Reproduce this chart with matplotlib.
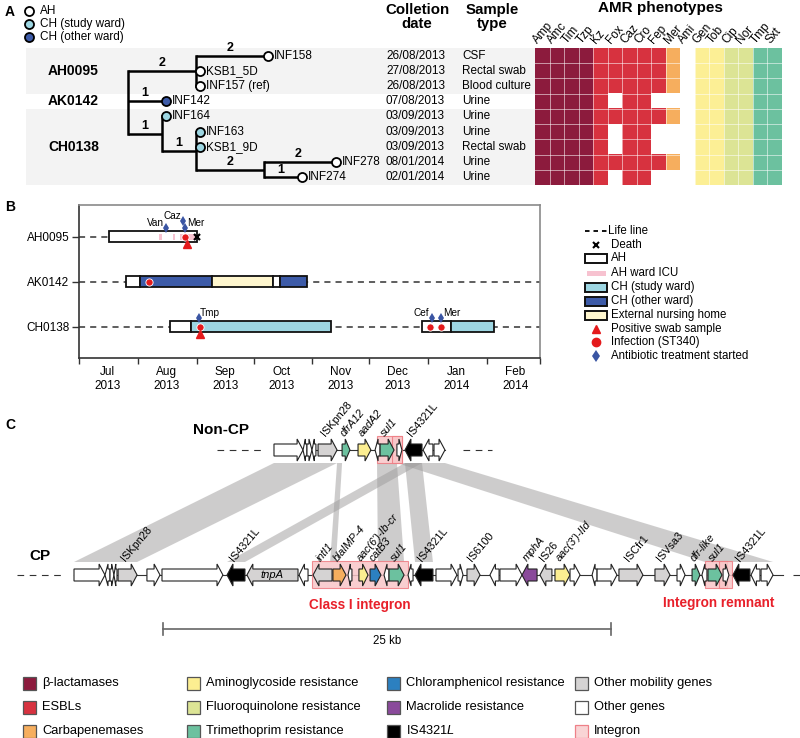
import datetime as dt
import numpy as np
import matplotlib
matplotlib.use('Agg')
import matplotlib.pyplot as plt
import matplotlib.dates as mdates
from matplotlib.patches import Rectangle, Polygon
from matplotlib.lines import Line2D
from matplotlib.transforms import blended_transform_factory

plt.rcParams['font.family'] = ['Liberation Sans', 'DejaVu Sans']
plt.rcParams['mathtext.fontset'] = 'custom'
plt.rcParams['mathtext.rm'] = 'Liberation Sans'
plt.rcParams['mathtext.it'] = 'Liberation Sans:italic'

# ======================= DATA =======================
# ---- Panel A ----
isolates = ['INF158', 'KSB1_5D', 'INF157 (ref)', 'INF142', 'INF164',
            'INF163', 'KSB1_9D', 'INF278', 'INF274']
isolate_site = ['AH', 'AH', 'AH', 'CH (other ward)', 'CH (study ward)',
                'CH (study ward)', 'CH (study ward)', 'AH', 'AH']
collection_dates = ['26/08/2013', '27/08/2013', '26/08/2013', '07/08/2013',
                    '03/09/2013', '03/09/2013', '03/09/2013', '08/01/2014',
                    '02/01/2014']
sample_types = ['CSF', 'Rectal swab', 'Blood culture', 'Urine', 'Urine',
                'Urine', 'Rectal swab', 'Urine', 'Urine']
patient_groups = ['AH0095', 'AK0142', 'CH0138']
group_rows = [[0, 1, 2], [3], [4, 5, 6, 7, 8]]

# tree: node -> (parent, SNP distance to parent)
tree = {
    'root': (None, 0),
    'nAH': ('root', 2), 'INF158': ('nAH', 2), 'KSB1_5D': ('nAH', 0),
    'INF157 (ref)': ('nAH', 0),
    'INF142': ('root', 1),
    'nCH': ('root', 1), 'INF164': ('nCH', 0), 'nCH2': ('nCH', 1),
    'INF163': ('nCH2', 0), 'KSB1_9D': ('nCH2', 0), 'nCH3': ('nCH2', 2),
    'INF278': ('nCH3', 2), 'INF274': ('nCH3', 1),
}

antibiotics = ['Amp', 'Amc', 'Tim', 'Tzp', 'Kz', 'Fox', 'Caz', 'Cro', 'Fep',
               'Mer', 'Ami', 'Gen', 'Tob', 'Cip', 'Nor', 'Tmp', 'Sxt']
antibiotic_class = (['β-lactamases'] * 4 + ['ESBLs'] * 5 + ['Carbapenemases'] +
                    ['Aminoglycoside resistance'] * 3 +
                    ['Fluoroquinolone resistance'] * 2 +
                    ['Trimethoprim resistance'] * 2)
resistance = [
    [1, 1, 1, 1, 1, 1, 1, 1, 1, 1, 0, 1, 1, 1, 1, 1, 1],
    [1, 1, 1, 1, 1, 1, 1, 1, 1, 1, 0, 1, 1, 1, 1, 1, 1],
    [1, 1, 1, 1, 1, 1, 1, 1, 1, 1, 0, 1, 1, 1, 1, 1, 1],
    [1, 1, 1, 1, 1, 0, 1, 1, 0, 0, 0, 1, 1, 1, 1, 1, 1],
    [1, 1, 1, 1, 1, 1, 1, 1, 1, 1, 0, 1, 1, 1, 1, 1, 1],
    [1, 1, 1, 1, 1, 0, 1, 1, 0, 0, 0, 1, 1, 1, 1, 1, 1],
    [1, 1, 1, 1, 1, 0, 1, 1, 0, 0, 0, 1, 1, 1, 1, 1, 1],
    [1, 1, 1, 1, 1, 1, 1, 1, 1, 1, 0, 1, 1, 1, 1, 1, 1],
    [1, 1, 1, 1, 1, 0, 1, 1, 0, 0, 0, 1, 1, 1, 1, 1, 1],
]

# ---- Panel B ----
patients = ['AH0095', 'AK0142', 'CH0138']
life_end = ['2013-09-01', None, None]
stay_patient = [0, 1, 1, 1, 1, 1, 2, 2, 2, 2]
stay_start = ['2013-07-17', '2013-07-26', '2013-08-02', '2013-09-09', '2013-10-11',
              '2013-10-15', '2013-08-18', '2013-08-29', '2013-12-29', '2014-01-13']
stay_end = ['2013-09-01', '2013-08-02', '2013-09-09', '2013-10-11', '2013-10-15',
            '2013-10-29', '2013-08-29', '2013-11-11', '2014-01-13', '2014-02-05']
stay_type = ['AH', 'AH', 'CH (other ward)', 'External nursing home', 'AH',
             'CH (other ward)', 'AH', 'CH (study ward)', 'AH', 'CH (study ward)']
icu_patient = [0, 0, 0]
icu_start = ['2013-08-12', '2013-08-19', '2013-08-23']
icu_end = ['2013-08-14', '2013-08-21', '2013-09-01']
death_patient = [0]
death_date = ['2013-09-01']
infection_patient = [0, 1, 2, 2, 2]
infection_date = ['2013-08-26', '2013-08-07', '2013-09-03', '2014-01-02', '2014-01-08']
swab_patient = [0, 2]
swab_date = ['2013-08-27', '2013-09-03']
abx_patient = [0, 0, 0, 2, 2, 2]
abx_date = ['2013-08-16', '2013-08-25', '2013-08-26', '2013-09-02', '2014-01-03', '2014-01-08']
abx_name = ['Van', 'Caz', 'Mer', 'Tmp', 'Cef', 'Mer']
abx_label_side = ['left', 'left', 'right', 'right', 'left', 'right']   # style

# ---- Panel C (kb) ----
cp_start = [0.00, 1.73, 2.01, 2.23, 2.46, 4.07, 4.91, 8.54, 9.65, 12.56, 13.34, 14.45,
            15.29, 15.90, 16.52, 17.30, 17.58, 18.64, 19.03, 20.20, 21.43, 21.93,
            23.21, 23.77, 25.00, 26.00, 26.84, 27.68, 28.91, 29.19, 30.41, 32.42,
            33.65, 34.49, 35.04, 35.38, 36.22, 36.77, 37.78, 38.34]
cp_end = [1.73, 2.01, 2.23, 2.40, 3.52, 4.80, 8.31, 9.54, 12.50, 13.06, 14.40, 15.18,
          15.51, 16.41, 17.13, 17.58, 18.42, 18.92, 20.03, 21.37, 21.71, 22.66,
          23.72, 25.00, 25.84, 26.67, 27.68, 28.24, 29.19, 30.30, 31.75, 33.26,
          34.10, 34.93, 35.32, 36.16, 36.55, 37.72, 38.28, 39.01]
cp_strand = [1, -1, 1, -1, 1, 1, 1, -1, -1, -1, -1, 1, -1, 1, 1, -1, 1, -1, -1, 1,
             1, 1, -1, 1, -1, -1, 1, 1, -1, 1, 1, 1, 1, 1, -1, 1, 1, -1, -1, 1]
cp_category = ['other', 'other', 'other', 'other', 'mobility', 'other', 'other',
               'IS4321L', 'mobility', 'other', 'mobility', 'carbapenemase', 'other',
               'aminoglycoside', 'chloramphenicol', 'other', 'trimethoprim', 'other',
               'IS4321L', 'other', 'other', 'mobility', 'other', 'other', 'macrolide',
               'mobility', 'aminoglycoside', 'other', 'other', 'other', 'mobility',
               'mobility', 'other', 'trimethoprim', 'other', 'trimethoprim', 'other',
               'IS4321L', 'other', 'other']
cp_label = ['', '', '', '', 'ISKpn28', '', '', 'IS4321L', 'tnpA', '', 'intI1',
            'blaIMP-4', '', "aac(6')-Ib-cr", 'catB3', '', 'sul1', '', 'IS4321L', '',
            '', 'IS6100', '', '', 'mphA', 'IS26', "aac(3')-IId", '', '', '', 'ISCfr1',
            'ISVsa3', '', 'dfr-like', '', 'sul1', '', 'IS4321L', '', '']
ncp_start = [11.16, 12.78, 13.00, 13.28, 13.62, 14.96, 15.85, 16.80, 17.08, 18.02,
             18.47, 19.48, 20.09]
ncp_end = [12.78, 13.00, 13.28, 13.50, 14.68, 15.40, 16.57, 17.08, 17.86, 18.30,
           19.42, 20.03, 20.70]
ncp_strand = [1, -1, 1, -1, 1, 1, 1, -1, 1, 1, -1, -1, 1]
ncp_category = ['other', 'other', 'other', 'other', 'mobility', 'trimethoprim',
                'aminoglycoside', 'other', 'trimethoprim', 'other', 'IS4321L',
                'other', 'other']
ncp_label = ['', '', '', '', 'ISKpn28', 'dfrA12', 'aadA2', '', 'sul1', '',
             'IS4321L', '', '']
cp_integron_start = [13.28, 35.21, 35.99]
cp_integron_end = [18.64, 36.44, 36.72]
ncp_integron_start = [16.91, 17.75]
ncp_integron_end = [18.30, 18.30]
syn_ncp_start = [11.16, 14.68, 18.47, 16.91, 18.47, 18.02]
syn_ncp_end = [14.68, 14.96, 19.42, 18.02, 19.42, 20.70]
syn_cp_start = [0.00, 14.29, 8.54, 16.96, 19.03, 35.21]
syn_cp_end = [3.52, 14.62, 9.54, 18.42, 20.03, 39.01]
scale_kb = 25

# ======================= STYLE =======================
class_color = {'β-lactamases': '#8C1B3D', 'ESBLs': '#D7323F',
               'Carbapenemases': '#F6AE5E', 'Aminoglycoside resistance': '#FCEF95',
               'Fluoroquinolone resistance': '#DCE495',
               'Trimethoprim resistance': '#6CC19F'}
site_color = {'AH': 'white', 'CH (study ward)': '#9DD6E2', 'CH (other ward)': '#3D5BA8'}
stay_color = {'AH': 'white', 'CH (study ward)': '#9DD6E2',
              'CH (other ward)': '#3D5BA8', 'External nursing home': '#FEF6CE'}
gene_color = {'other': 'white', 'mobility': '#D5D3D3', 'IS4321L': 'black',
              'carbapenemase': '#F6AE5E', 'aminoglycoside': '#FCEE91',
              'chloramphenicol': '#2C80C0', 'trimethoprim': '#6CC19F',
              'macrolide': '#8A4A9B'}
RED = '#E41A1C'
ABX_BLUE = '#3A55A3'

W, H = 800, 738
fig = plt.figure(figsize=(8, 7.38), dpi=100)


def fax(x0, y0, x1, y1):
    a = fig.add_axes([x0 / W, 1 - y1 / H, (x1 - x0) / W, (y1 - y0) / H])
    a.patch.set_visible(False)
    return a


ov = fig.add_axes([0, 0, 1, 1])
ov.set_xlim(0, W)
ov.set_ylim(H, 0)
ov.axis('off')
ov.set_zorder(10)

# ======================= PANEL A =======================
ROOT_PX, PX_PER_SNP = 128, 34
axA = fax(0, 48, 800, 185)
axA.set_xlim(-ROOT_PX / PX_PER_SNP, (W - ROOT_PX) / PX_PER_SNP)
axA.set_ylim(8.5, -0.5)
axA.axis('off')
txA = blended_transform_factory(ov.transData, axA.transData)

# background bands
for gi, rows in enumerate(group_rows):
    if gi % 2 == 0:
        axA.add_patch(Rectangle((26, min(rows) - 0.5), 535 - 26, len(rows),
                                transform=txA, fc='#F3F3F3', ec='none', zorder=0))
    axA.text(48, np.mean([min(rows), max(rows)]), patient_groups[gi], transform=txA,
             fontsize=10, fontweight='bold', va='center', ha='left')

# tree layout
children = {}
for n, (p, bl) in tree.items():
    if p is not None:
        children.setdefault(p, []).append(n)
xpos, ypos = {}, {}


def set_x(n, x):
    xpos[n] = x
    for c in children.get(n, []):
        set_x(c, x + tree[c][1])


set_x('root', 0)


def set_y(n):
    if n in isolates:
        ypos[n] = isolates.index(n)
    else:
        ys = [set_y(c) for c in children[n]]
        ypos[n] = (min(ys) + max(ys)) / 2
    return ypos[n]


set_y('root')
for n, (p, bl) in tree.items():
    if p is None:
        continue
    if bl > 0:
        axA.plot([xpos[p], xpos[n]], [ypos[n]] * 2, color='black', lw=1.8,
                 solid_capstyle='butt', zorder=2)
        axA.text((xpos[p] + xpos[n]) / 2, ypos[n] - 0.12, str(bl), ha='center',
                 va='bottom', fontsize=9, fontweight='bold')
for n, ch in children.items():
    ys = [ypos[c] for c in ch]
    axA.plot([xpos[n]] * 2, [min(ys), max(ys)], color='black', lw=1.8,
             solid_capstyle='projecting', zorder=2)
for i, iso in enumerate(isolates):
    axA.plot(xpos[iso] + 0.12, i, 'o', ms=6.5, mfc=site_color[isolate_site[i]],
             mec='black', mew=1.3, zorder=3)
    axA.text(xpos[iso] + 0.28, i, iso, fontsize=8.5, va='center', ha='left')
    axA.text(386, i, collection_dates[i], transform=txA, fontsize=8.5, va='center')
    axA.text(462, i, sample_types[i], transform=txA, fontsize=8.5, va='center')

# heatmap
axH = fax(535, 48, 782, 185)
rgb = np.ones((len(isolates), len(antibiotics), 3))
for i in range(len(isolates)):
    for j in range(len(antibiotics)):
        if resistance[i][j]:
            rgb[i, j] = matplotlib.colors.to_rgb(class_color[antibiotic_class[j]])
axH.imshow(rgb, aspect='auto', interpolation='nearest',
           extent=(-0.5, len(antibiotics) - 0.5, len(isolates) - 0.5, -0.5))
for k in range(1, len(antibiotics)):
    axH.axvline(k - 0.5, color='white', alpha=0.55, lw=0.7)
for k in range(1, len(isolates)):
    axH.axhline(k - 0.5, color='white', alpha=0.55, lw=0.7)
axH.axis('off')
for j, ab in enumerate(antibiotics):
    axH.text(j - 0.3, -0.75, ab, rotation=50, rotation_mode='anchor', ha='left',
             va='baseline', fontsize=8.5)

# headers / legend A
ov.text(5, 12, 'A', fontsize=10, fontweight='bold', va='center')
for k, (lab, col) in enumerate([('AH', 'white'), ('CH (study ward)', site_color['CH (study ward)']),
                                ('CH (other ward)', site_color['CH (other ward)'])]):
    ov.plot(29, 11 + 13 * k, 'o', ms=6.5, mfc=col, mec='black', mew=1.3)
    ov.text(40, 11 + 13 * k, lab, fontsize=8.5, va='center')
ov.text(417, 17, 'Colletion\ndate', fontsize=10.8, fontweight='bold', ha='center',
        va='center', linespacing=1.0)
ov.text(492, 17, 'Sample\ntype', fontsize=10.8, fontweight='bold', ha='center',
        va='center', linespacing=1.0)
ov.text(660, 8, 'AMR phenotypes', fontsize=11, fontweight='bold', ha='center', va='center')

# ======================= PANEL B =======================
d2n = lambda s: mdates.date2num(dt.date.fromisoformat(s))
axB = fax(79, 205, 540, 358)
axB.patch.set_visible(False)
axB.set_xlim(mdates.date2num(dt.date(2013, 7, 1)), mdates.date2num(dt.date(2014, 3, 1)))
axB.set_ylim(3.69, 0.29)
xmin, xmax = axB.get_xlim()
for i in range(len(patients)):
    xe = d2n(life_end[i]) if life_end[i] else xmax
    axB.plot([xmin, xe], [i + 1] * 2, color='#333333', lw=1.1, ls=(0, (4, 3.3)), zorder=1)
BH = 0.245
for k in range(len(stay_start)):
    y = stay_patient[k] + 1
    axB.add_patch(Rectangle((d2n(stay_start[k]), y - BH / 2),
                            d2n(stay_end[k]) - d2n(stay_start[k]), BH,
                            fc=stay_color[stay_type[k]], ec='#111111', lw=1.3, zorder=2))
for k in range(len(icu_start)):
    y = icu_patient[k] + 1
    axB.add_patch(Rectangle((d2n(icu_start[k]) + 0.4, y - 0.06),
                            d2n(icu_end[k]) - d2n(icu_start[k]) - 0.8, 0.12,
                            fc='#F7C2D0', ec='none', zorder=3))
for k in range(len(death_date)):
    axB.plot(d2n(death_date[k]), death_patient[k] + 1, 'x', color='black', ms=5,
             mew=1.6, zorder=6)
for k in range(len(infection_date)):
    axB.plot(d2n(infection_date[k]), infection_patient[k] + 1, 'o', color=RED, ms=5.2,
             mec='white', mew=0.6, zorder=6)
for k in range(len(swab_date)):
    axB.plot(d2n(swab_date[k]), swab_patient[k] + 1.16, '^', color=RED, ms=6, zorder=6)
# antibiotic markers with stacking when close
levels = [0] * len(abx_date)
order = sorted(range(len(abx_date)), key=lambda k: d2n(abx_date[k]), reverse=True)
placed = []
for k in order:
    lv = 0
    for q in placed:
        if abx_patient[q] == abx_patient[k] and abs(d2n(abx_date[q]) - d2n(abx_date[k])) < 3 \
                and levels[q] == lv:
            lv += 1
    levels[k] = lv
    placed.append(k)
for k in range(len(abx_date)):
    x = d2n(abx_date[k])
    y = abx_patient[k] + 1 - 0.2 - 0.155 * levels[k]
    axB.plot(x, y, 'd', color=ABX_BLUE, ms=5, mew=0, zorder=6)
    if abx_label_side[k] == 'left':
        axB.text(x - 1.3, y - 0.12, abx_name[k], ha='right', va='center', fontsize=7.2)
    else:
        axB.text(x + 0.8, y - 0.12, abx_name[k], ha='left', va='center', fontsize=7.2)

axB.set_yticks(range(1, len(patients) + 1))
axB.set_yticklabels(patients, fontsize=8.5)
axB.xaxis.set_major_locator(mdates.MonthLocator())
axB.xaxis.set_major_formatter(matplotlib.ticker.NullFormatter())
axB.xaxis.set_minor_locator(mdates.MonthLocator(bymonthday=16))
axB.xaxis.set_minor_formatter(mdates.DateFormatter('%b\n%Y'))
axB.tick_params(axis='x', which='minor', length=0, labelsize=8.5, pad=6)
axB.tick_params(axis='x', which='major', length=4, width=1, color='#333333')
axB.tick_params(axis='y', length=5, width=1, color='#333333', pad=2)
for s in ['left', 'bottom']:
    axB.spines[s].set_color('#333333')
for s in ['top', 'right']:
    axB.spines[s].set_color('#8a8a8a')
for s in axB.spines.values():
    s.set_linewidth(1.2)
ov.text(5, 207, 'B', fontsize=10, fontweight='bold', va='center')

# legend B
LX0, LX1, TX = 585, 607, 611
ly = [231, 245, 258, 273, 287, 301, 315, 329, 342, 356]
ov.plot([LX0, LX1], [ly[0]] * 2, color='black', lw=1.3, ls=(0, (2.5, 2.2)))
ov.plot(596, ly[1], 'x', color='black', ms=4.5, mew=1.5)
for yy, col in zip([ly[2], ly[4], ly[5], ly[6]],
                   ['white', stay_color['CH (study ward)'], stay_color['CH (other ward)'],
                    stay_color['External nursing home']]):
    ov.add_patch(Rectangle((LX0, yy - 4.5), LX1 - LX0, 9, fc=col, ec='#111111', lw=1.4))
ov.add_patch(Rectangle((LX0 + 2, ly[3] - 2.5), LX1 - LX0 - 3, 5, fc='#F7C2D0', ec='none'))
ov.plot(596, ly[7], '^', color=RED, ms=6)
ov.plot(596, ly[8], 'o', color=RED, ms=6)
ov.plot(596, ly[9], 'd', color=ABX_BLUE, ms=6, mew=0)
for yy, lab in zip(ly, ['Life line', 'Death', 'AH', 'AH ward ICU', 'CH (study ward)',
                        'CH (other ward)', 'External nursing home', 'Positive swab sample',
                        'Infection (ST340)', 'Antibiotic treatment started']):
    ov.text(TX if yy != ly[0] else 608, yy, lab, fontsize=8.3, va='center')

# ======================= PANEL C =======================
PX0, PX_PER_KB = 74, 17.92
axC = fax(0, 395, 800, 665)
axC.set_xlim(-PX0 / PX_PER_KB, (W - PX0) / PX_PER_KB)
axC.set_ylim(665, 395)
axC.axis('off')
NCP_Y, CP_Y = 450, 575


def draw_gene(s, e, strand, y, fc, bh=12, hh=22, hl=0.33):
    hl = min(hl, (e - s) * 0.6)
    if strand > 0:
        pts = [(s, y - bh / 2), (e - hl, y - bh / 2), (e - hl, y - hh / 2), (e, y),
               (e - hl, y + hh / 2), (e - hl, y + bh / 2), (s, y + bh / 2)]
    else:
        pts = [(e, y - bh / 2), (s + hl, y - bh / 2), (s + hl, y - hh / 2), (s, y),
               (s + hl, y + hh / 2), (s + hl, y + bh / 2), (e, y + bh / 2)]
    axC.add_patch(Polygon(pts, closed=True, fc=fc, ec='#222222', lw=0.8, zorder=4,
                          joinstyle='miter'))


# synteny bands
for k in range(len(syn_ncp_start)):
    pts = [(syn_ncp_start[k], NCP_Y + 13), (syn_ncp_end[k], NCP_Y + 13),
           (syn_cp_end[k], CP_Y - 13), (syn_cp_start[k], CP_Y - 13)]
    axC.add_patch(Polygon(pts, closed=True, fc='#9d9b9b', alpha=0.5, ec='none', zorder=1))

for starts, ends, strands, cats, labels, y, ist, ien in [
        (cp_start, cp_end, cp_strand, cp_category, cp_label, CP_Y, cp_integron_start, cp_integron_end),
        (ncp_start, ncp_end, ncp_strand, ncp_category, ncp_label, NCP_Y, ncp_integron_start, ncp_integron_end)]:
    s0, e0 = min(starts), max(ends)
    axC.plot([s0, e0 + (0.55 if y == CP_Y else 0)], [y, y], color='#333333', lw=0.8, zorder=2)
    axC.plot([s0 - 3.2, s0 - 0.6], [y, y], color='#333333', lw=0.8, ls=(0, (6, 5)), zorder=2)
    if y == CP_Y:
        axC.plot([e0 + 1.1, e0 + 3.0], [y, y], color='#333333', lw=0.8, ls=(0, (6, 5)))
    else:
        axC.plot([e0 + 1.0, e0 + 2.6], [y, y], color='#333333', lw=0.8, ls=(0, (6, 5)))
    for a, b in zip(ist, ien):
        axC.add_patch(Rectangle((a, y - 13.5), b - a, 27, fc='#F8C6C8', alpha=0.85,
                                ec='#EE7B82', lw=0.8, zorder=3))
    for k in range(len(starts)):
        draw_gene(starts[k], ends[k], strands[k], y, gene_color[cats[k]])
        lab = labels[k]
        if not lab:
            continue
        cx = (starts[k] + ends[k]) / 2
        style = 'normal' if lab.startswith('IS') else 'italic'
        if lab == 'tnpA':
            axC.text(cx, y, lab, ha='center', va='center', fontsize=8, style='italic', zorder=5)
        else:
            axC.text(cx - 0.1, y - 13, lab, rotation=50, rotation_mode='anchor', ha='left',
                     va='baseline', fontsize=7.8, style=style)

axC.text((cp_integron_start[0] + cp_integron_end[0]) / 2, 605, 'Class I integron',
         color='#E8202A', fontsize=9.8, fontweight='bold', ha='center', va='center')
axC.text((cp_integron_start[1] + cp_integron_end[2]) / 2, 603, 'Integron remnant',
         color='#E8202A', fontsize=9.8, fontweight='bold', ha='center', va='center')
sb0 = 4.97
axC.plot([sb0, sb0 + scale_kb], [629, 629], color='#666666', lw=1.2)
for xx in [sb0, sb0 + scale_kb]:
    axC.plot([xx, xx], [623, 635], color='#666666', lw=1.2)
axC.text(sb0 + scale_kb / 2, 641, f'{scale_kb} kb', fontsize=8.3, ha='center', va='center')

ov.text(5, 425, 'C', fontsize=10, fontweight='bold', va='center')
ov.text(221, 430, 'Non-CP', fontsize=11, fontweight='bold', ha='center', va='center')
ov.text(40, 556, 'CP', fontsize=11, fontweight='bold', ha='center', va='center')

# bottom legend
leg_items = [('β-lactamases', class_color['β-lactamases'], '#555555'),
             ('ESBLs', class_color['ESBLs'], '#555555'),
             ('Carbapenemases', class_color['Carbapenemases'], '#555555'),
             ('Aminoglycoside resistance', gene_color['aminoglycoside'], '#555555'),
             ('Fluoroquinolone resistance', class_color['Fluoroquinolone resistance'], '#555555'),
             ('Trimethoprim resistance', gene_color['trimethoprim'], '#555555'),
             ('Chloramphenicol resistance', gene_color['chloramphenicol'], '#555555'),
             ('Macrolide resistance', gene_color['macrolide'], '#555555'),
             ('IS$\\mathit{4321L}$', 'black', '#555555'),
             ('Other mobility genes', gene_color['mobility'], '#555555'),
             ('Other genes', 'white', '#555555'),
             ('Integron', '#F9D4D5', '#EE8088')]
col_x = [23, 187, 387, 575]
row_y = [683, 707, 731]
for k, (lab, fc, ec) in enumerate(leg_items):
    x, y = col_x[k // 3], row_y[k % 3]
    ov.add_patch(Rectangle((x, y - 6.5), 13, 13, fc=fc, ec=ec, lw=0.9))
    ov.text(x + 19, y, lab, fontsize=9.3, va='center')

fig.savefig('out.png', dpi=100)
